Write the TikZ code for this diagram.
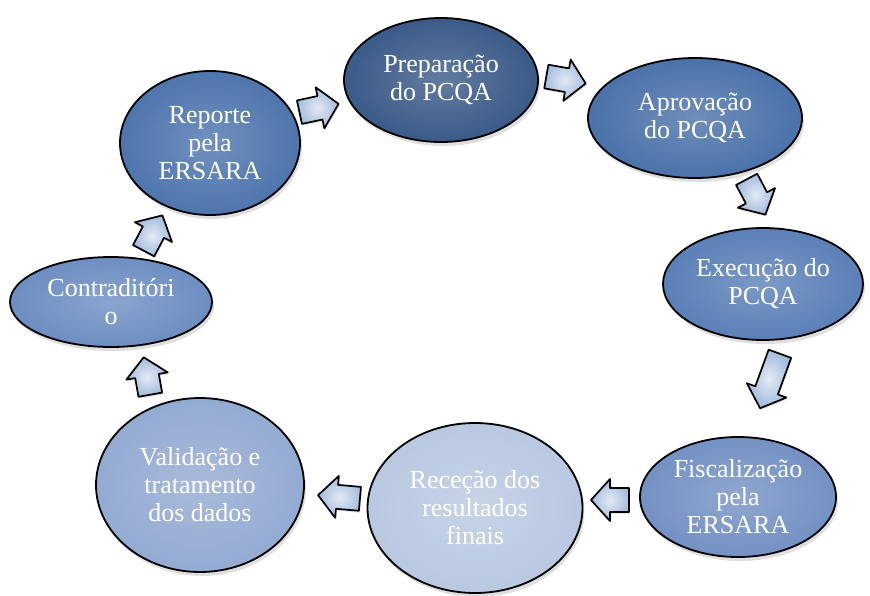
\documentclass[tikz,border=0pt]{standalone}
\usepackage{fontspec}
\setmainfont{Liberation Serif}
\usetikzlibrary{shapes.geometric,shadows}
\definecolor{cprep}{HTML}{3B5A88}
\definecolor{caprov}{HTML}{4A72A9}
\definecolor{cexec}{HTML}{5A80B7}
\definecolor{cfisc}{HTML}{7491C4}
\definecolor{crece}{HTML}{B9C8E1}
\definecolor{cvalid}{HTML}{93AAD2}
\definecolor{ccontr}{HTML}{6D8EC2}
\definecolor{crep}{HTML}{4E75AD}
\definecolor{carrow}{HTML}{A3BBDD}
\tikzset{
  stage/.style={ellipse, draw=black, line width=1.8pt, inner sep=0pt,
    align=center, text=white, font=\fontsize{26}{28}\selectfont,
    drop shadow={shadow xshift=2pt, shadow yshift=-4pt, opacity=0.25},
    shade, shading=radial, inner color=#1!80!white, outer color=#1},
  flowarrow/.style={draw=black, line width=1.7pt, line join=round,
    shade, shading=radial, inner color=carrow!30!white, outer color=carrow,
    drop shadow={shadow xshift=1pt, shadow yshift=-2pt, opacity=0.2}}
}
% #1 name, #2 centre, #3 angle, #4 length
\newcommand\mkblockarrow[4]{%
  \coordinate (#1) at #2;
  \draw[flowarrow, shift={#2}, rotate=#3]
    (-#4/2,-12) -- (#4/2-19,-12) -- (#4/2-19,-21) -- (#4/2,0)
    -- (#4/2-19,21) -- (#4/2-19,12) -- (-#4/2,12) -- cycle;
}
\begin{document}
\begin{tikzpicture}[x=1pt,y=-1pt]
\useasboundingbox (0,0) rectangle (870,595);
\node[stage=cprep, minimum width=194pt, minimum height=124pt] (prep) at (441,80) {Preparação\\do PCQA};
\node[stage=caprov, minimum width=214pt, minimum height=120pt] (aprov) at (695,118) {Aprovação\\do PCQA};
\node[stage=cexec, minimum width=200pt, minimum height=112pt] (exec) at (763,284) {Execução do\\PCQA};
\node[stage=cfisc, minimum width=196pt, minimum height=120pt] (fisc) at (738,497) {Fiscalização\\pela\\ERSARA};
\node[stage=crece, minimum width=215pt, minimum height=170pt] (rece) at (475,508) {Receção dos\\resultados\\finais};
\node[stage=cvalid, minimum width=208pt, minimum height=174pt] (valid) at (200,485) {Validação e\\tratamento\\dos dados};
\node[stage=ccontr, minimum width=202pt, minimum height=90pt] (contr) at (111,302) {Contraditóri\\o};
\node[stage=crep, minimum width=180pt, minimum height=144pt] (rep) at (210,143) {Reporte\\pela\\ERSARA};
\mkblockarrow{a1}{(319,108)}{12}{40}
\mkblockarrow{a2}{(566,80)}{-10}{40}
\mkblockarrow{a3}{(756,197)}{-62}{40}
\mkblockarrow{a4}{(770,381)}{-110}{58}
\mkblockarrow{a5}{(610,500)}{180}{38}
\mkblockarrow{a6}{(339,497)}{175}{42}
\mkblockarrow{a7}{(147,376)}{100}{38}
\mkblockarrow{a8}{(153,233)}{62}{40}
\end{tikzpicture}
\end{document}
